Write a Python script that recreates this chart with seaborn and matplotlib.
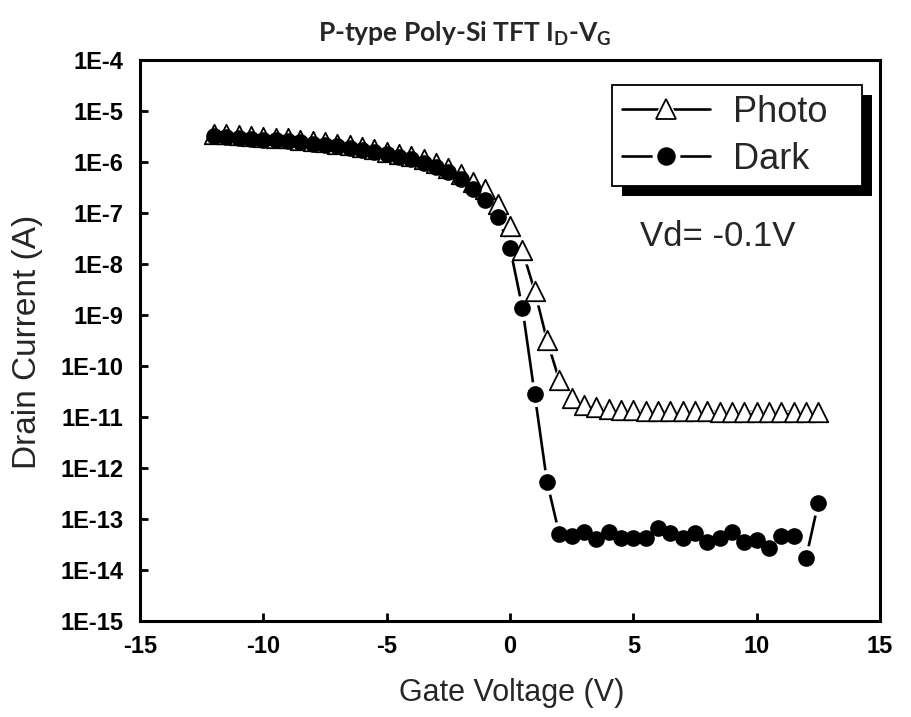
import math
import matplotlib
matplotlib.use("Agg")
import matplotlib.pyplot as plt
import seaborn as sns
from matplotlib.lines import Line2D
from matplotlib.patches import Rectangle
from matplotlib.ticker import FixedLocator, FuncFormatter, NullLocator
from matplotlib.transforms import IdentityTransform
from matplotlib.legend_handler import HandlerTuple

# Gate voltage sweep (V)
gate_voltage = [-12.0, -11.5, -11.0, -10.5, -10.0, -9.5, -9.0, -8.5, -8.0, -7.5,
                -7.0, -6.5, -6.0, -5.5, -5.0, -4.5, -4.0, -3.5, -3.0, -2.5,
                -2.0, -1.5, -1.0, -0.5, 0.0, 0.5, 1.0, 1.5, 2.0, 2.5,
                3.0, 3.5, 4.0, 4.5, 5.0, 5.5, 6.0, 6.5, 7.0, 7.5,
                8.0, 8.5, 9.0, 9.5, 10.0, 10.5, 11.0, 11.5, 12.0, 12.5]

# Drain current under illumination (A)
photo_current = [3.6e-6, 3.5e-6, 3.4e-6, 3.25e-6, 3.1e-6, 3.0e-6, 2.9e-6, 2.75e-6, 2.6e-6, 2.45e-6,
                 2.3e-6, 2.15e-6, 1.95e-6, 1.78e-6, 1.6e-6, 1.45e-6, 1.3e-6, 1.12e-6, 9.4e-7, 7.6e-7,
                 5.8e-7, 4.1e-7, 2.9e-7, 1.5e-7, 5.6e-8, 1.85e-8, 3.0e-9, 3.2e-10, 5.2e-11, 2.4e-11,
                 1.75e-11, 1.55e-11, 1.45e-11, 1.4e-11, 1.35e-11, 1.32e-11, 1.3e-11, 1.3e-11, 1.29e-11, 1.29e-11,
                 1.29e-11, 1.28e-11, 1.28e-11, 1.28e-11, 1.28e-11, 1.28e-11, 1.28e-11, 1.28e-11, 1.28e-11, 1.28e-11]

# Drain current in the dark (A)
dark_current = [3.2e-6, 3.1e-6, 3.0e-6, 2.85e-6, 2.72e-6, 2.64e-6, 2.55e-6, 2.42e-6, 2.29e-6, 2.15e-6,
                2.02e-6, 1.89e-6, 1.72e-6, 1.57e-6, 1.41e-6, 1.28e-6, 1.14e-6, 9.7e-7, 8.0e-7, 6.3e-7,
                4.6e-7, 3.0e-7, 1.8e-7, 8.3e-8, 2.1e-8, 1.4e-9, 2.8e-11, 5.4e-13, 5.0e-14, 4.7e-14,
                5.6e-14, 4.0e-14, 5.6e-14, 4.2e-14, 4.2e-14, 4.3e-14, 6.8e-14, 5.4e-14, 4.3e-14, 5.4e-14,
                3.5e-14, 4.3e-14, 5.6e-14, 3.5e-14, 3.8e-14, 2.7e-14, 4.7e-14, 4.7e-14, 1.7e-14, 2.1e-13]

x_ticks = [-15, -10, -5, 0, 5, 10, 15]
y_tick_exponents = [-15, -14, -13, -12, -11, -10, -9, -8, -7, -6, -5, -4]
series_labels = ["Photo", "Dark"]

sns.set_style("ticks")
plt.rcParams["font.family"] = ["Liberation Sans", "DejaVu Sans"]
plt.rcParams["mathtext.fontset"] = "custom"

W, H = 912, 717
fig = plt.figure(figsize=(W / 100, H / 100), dpi=100)
fig.patch.set_facecolor("white")

left, right, top, bottom = 140, 880, 60, 621
ax = fig.add_axes([left / W, 1 - bottom / H, (right - left) / W, (bottom - top) / H])
ax.set_facecolor("white")

line_w = 1.9
circle_ms = 12.0
tri_ms = 14.0
halo_extra = 6.0

# Connecting lines, each broken around its markers by a white halo
sns.lineplot(x=gate_voltage, y=photo_current, ax=ax, color="black", lw=line_w,
             sort=False, estimator=None, zorder=2)
sns.scatterplot(x=gate_voltage, y=photo_current, ax=ax, marker="^", s=(tri_ms + halo_extra) ** 2,
                color="white", linewidth=0, zorder=2.5)
sns.lineplot(x=gate_voltage, y=dark_current, ax=ax, color="black", lw=line_w,
             sort=False, estimator=None, zorder=3)
sns.scatterplot(x=gate_voltage, y=dark_current, ax=ax, marker="o", s=(circle_ms + halo_extra) ** 2,
                color="white", linewidth=0, zorder=3.5)

# Markers
sns.scatterplot(x=gate_voltage, y=photo_current, ax=ax, marker="^", s=tri_ms ** 2,
                color="white", edgecolor="black", linewidth=1.3, zorder=4)
sns.scatterplot(x=gate_voltage, y=dark_current, ax=ax, marker="o", s=circle_ms ** 2,
                color="black", edgecolor="black", linewidth=0, zorder=5)

ax.set_yscale("log")
ax.set_xlim(-15, 15)
ax.set_ylim(10.0 ** y_tick_exponents[0], 10.0 ** y_tick_exponents[-1])
ax.xaxis.set_major_locator(FixedLocator(x_ticks))
ax.yaxis.set_major_locator(FixedLocator([10.0 ** e for e in y_tick_exponents]))
ax.yaxis.set_minor_locator(NullLocator())
ax.xaxis.set_minor_locator(NullLocator())
ax.yaxis.set_major_formatter(FuncFormatter(lambda v, p: "1E%d" % round(math.log10(v))))
ax.xaxis.set_major_formatter(FuncFormatter(lambda v, p: "%d" % v))
ax.set_xlabel("")
ax.set_ylabel("")

for s in ax.spines.values():
    s.set_visible(True)
    s.set_linewidth(2.2)
    s.set_color("black")
ax.tick_params(axis="both", which="major", direction="in", length=6, width=2.0,
               color="black", labelsize=17, labelcolor="black")
ax.tick_params(axis="y", pad=12)
ax.tick_params(axis="x", pad=10)
for lab in ax.get_xticklabels() + ax.get_yticklabels():
    lab.set_fontweight("bold")
ax.grid(False)


# Legend handles: line broken around the marker
def handle(marker, face, size):
    ln = Line2D([], [], color="black", lw=line_w)
    halo = Line2D([], [], ls="none", marker=marker, markersize=size + 8,
                  markerfacecolor="white", markeredgewidth=0)
    mk = Line2D([], [], ls="none", marker=marker, markersize=size,
                markerfacecolor=face, markeredgecolor="black", markeredgewidth=1.3)
    return (ln, halo, mk)


leg_x0, leg_x1, leg_top = 612, 862, 85
ax_w, ax_h = right - left, bottom - top
leg = ax.legend([handle("^", "white", tri_ms), handle("o", "black", circle_ms)], series_labels,
                handler_map={tuple: HandlerTuple(ndivide=1)},
                loc="upper left", mode="expand",
                bbox_to_anchor=((leg_x0 - left) / ax_w, 0.0, (leg_x1 - leg_x0) / ax_w,
                                1 - (leg_top - top) / ax_h),
                borderaxespad=0, fontsize=26, handlelength=2.45, handletextpad=0.62,
                labelspacing=0.33, borderpad=0.27, numpoints=1, fancybox=False,
                frameon=True, framealpha=1, edgecolor="black", facecolor="white")
leg.get_frame().set_linewidth(1.3)
leg.set_zorder(10)

# Solid drop shadow behind the legend box
fig.canvas.draw()
bb = leg.get_window_extent()
shadow = Rectangle((bb.x0 + 10, bb.y0 - 10), bb.width, bb.height, transform=IdentityTransform(),
                   facecolor="black", edgecolor="none", zorder=9)
shadow.set_clip_on(False)
ax.add_artist(shadow)

fig.text(640 / W, 1 - 236 / H, "Vd= -0.1V", fontsize=25, ha="left", va="center")

fig.text(465 / W, 1 - 34 / H, r"P-type Poly-Si TFT I$_\mathregular{D}$-V$_\mathregular{G}$",
         ha="center", va="center", fontsize=19, fontweight="bold", family="Lato")
fig.text(28 / W, 1 - 342 / H, "Drain Current (A)", rotation=90, ha="center", va="center",
         fontsize=24)
fig.text(512 / W, 1 - 693 / H, "Gate Voltage (V)", ha="center", va="center", fontsize=22)

fig.savefig("out.png", dpi=100, facecolor="white")
